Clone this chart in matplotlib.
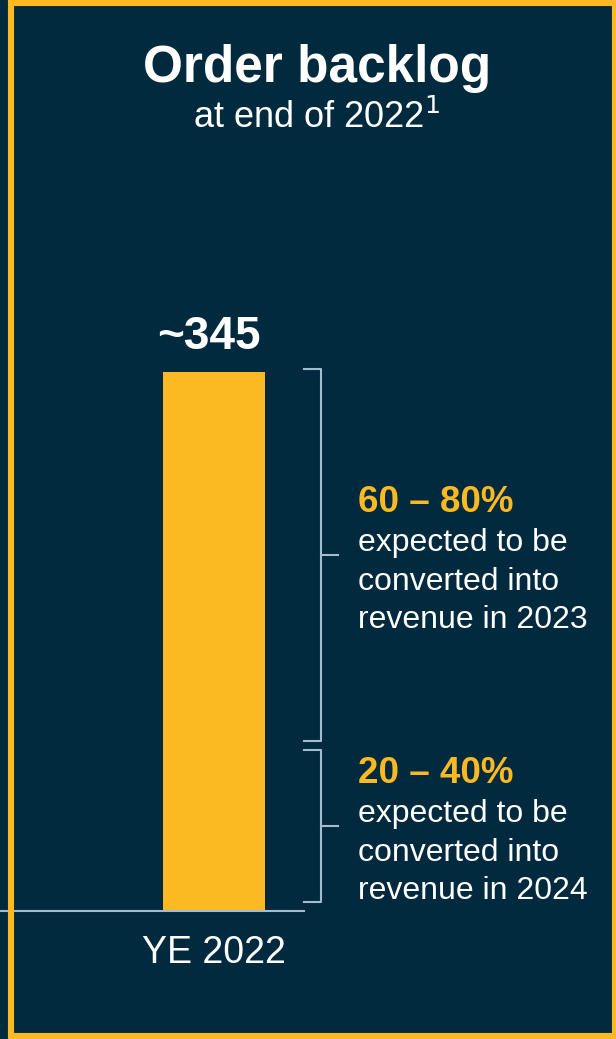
import matplotlib.pyplot as plt
from matplotlib.patches import Rectangle

plt.rcParams['font.family'] = ['Liberation Sans', 'DejaVu Sans']

navy = '#022a3e'
yellow = '#fbba21'
steel = '#a3bccf'

# data
category = 'YE 2022'
backlog = 345
shares = ['60 – 80%', '20 – 40%']
notes = [['expected to be', 'converted into', 'revenue in 2023'],
         ['expected to be', 'converted into', 'revenue in 2024']]
# bracket spans (value units) as drawn next to the bar
spans = [(109, 347), (6, 103)]

fig = plt.figure(figsize=(6.16, 10.39), dpi=100, facecolor=navy)

fig.patches.append(Rectangle((11 / 616, 3 / 1039), 604 / 616, 1033 / 1039,
                             transform=fig.transFigure, fill=False,
                             edgecolor=yellow, lw=4.4))

fig.text(317 / 616, 1 - 82 / 1039, 'Order backlog', ha='center', va='baseline',
         color='white', fontsize=37, fontweight='bold')
fig.text(317 / 616, 1 - 128 / 1039, 'at end of 2022$^{1}$', ha='center', va='baseline',
         color='white', fontsize=26)

ax = fig.add_axes([0, 128 / 1039, 1, 539 / 1039])
ax.set_facecolor(navy)
ax.set_xlim(-214 / 170, 402 / 170)
ax.set_ylim(0, backlog)
for s in ax.spines.values():
    s.set_visible(False)
ax.set_yticks([])

ax.bar(0, backlog, width=0.6, color=yellow)
ax.plot([-214 / 170, 0.53], [0, 0], color=steel, lw=1.5, clip_on=False)

ax.set_xticks([0], [category])
ax.tick_params(axis='x', length=0, pad=17, labelsize=27, labelcolor='white')

ax.annotate(f'~{backlog}', (0, backlog), xytext=(-4, 16.5), textcoords='offset points',
            ha='center', va='baseline', color='white', fontsize=33, fontweight='bold')

xt, xv, xm, xtext = 0.53, 0.63, 0.73, 0.847
offsets = [31, 2.9, -25.2, -52.6]
for (lo, hi), share, lines in zip(spans, shares, notes):
    ax.plot([xt, xv, xv, xt], [lo, lo, hi, hi], color=steel, lw=1.5, clip_on=False)
    mid = (lo + hi) / 2
    ax.plot([xv, xm], [mid, mid], color=steel, lw=1.5, clip_on=False)
    ax.annotate(share, (xtext, mid), xytext=(0, offsets[0]), textcoords='offset points',
                ha='left', va='baseline', color=yellow, fontsize=26.5, fontweight='bold',
                annotation_clip=False)
    for line, off in zip(lines, offsets[1:]):
        ax.annotate(line, (xtext, mid), xytext=(0, off), textcoords='offset points',
                    ha='left', va='baseline', color='white', fontsize=23,
                    annotation_clip=False)

fig.savefig('out.png', dpi=100, facecolor=navy)
